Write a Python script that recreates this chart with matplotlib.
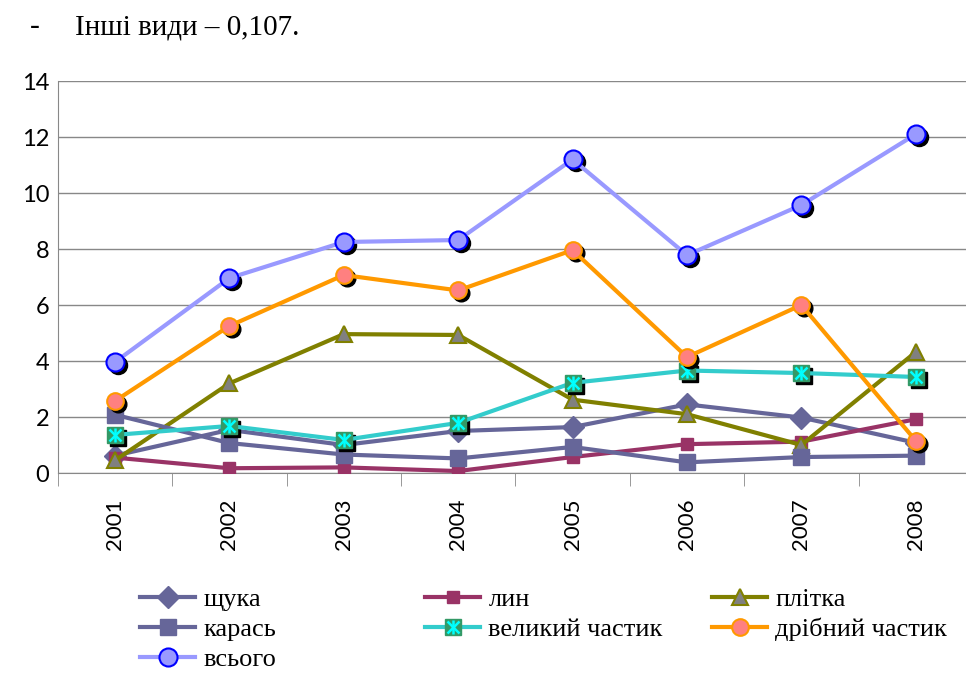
import numpy as np
import matplotlib.pyplot as plt
from matplotlib.legend_handler import HandlerTuple
from matplotlib.transforms import ScaledTranslation

# Дані
years = ['2001', '2002', '2003', '2004', '2005', '2006', '2007', '2008']
shchuka = [0.62, 1.54, 1.0, 1.5, 1.64, 2.45, 1.98, 1.08]
lyn = [0.55, 0.17, 0.2, 0.07, 0.57, 1.03, 1.12, 1.92]
plitka = [0.45, 3.2, 4.96, 4.93, 2.62, 2.1, 1.0, 4.32]
karas = [2.08, 1.07, 0.66, 0.52, 0.93, 0.38, 0.57, 0.62]
velykyi = [1.36, 1.68, 1.18, 1.79, 3.22, 3.66, 3.57, 3.43]
dribnyi = [2.57, 5.25, 7.07, 6.52, 7.96, 4.14, 6.0, 1.15]
vsogo = [3.96, 6.96, 8.25, 8.32, 11.2, 7.78, 9.57, 12.1]

serif = ['Liberation Serif', 'DejaVu Serif']
sans = ['Lato', 'DejaVu Sans']

fig = plt.figure(figsize=(9.66, 6.74), dpi=100)
ax = fig.add_axes([57.75 / 966, 201 / 674, 915.25 / 966, 392 / 674])
x = np.arange(len(years))

# тінь під маркерами
shadow = ax.transData + ScaledTranslation(3 / 100, -3 / 100, fig.dpi_scale_trans)

lw = 3
h_shch, = ax.plot(x, shchuka, color='#666699', lw=lw, marker='D', ms=11,
                  mfc='#666699', mec='#666699', zorder=3)
h_lyn, = ax.plot(x, lyn, color='#993366', lw=lw, marker='s', ms=8,
                 mfc='#993366', mec='#993366', zorder=3)
h_pl, = ax.plot(x, plitka, color='#808000', lw=lw, marker='^', ms=12,
                mfc='#808080', mec='#808000', mew=1.5, zorder=3)
h_kar, = ax.plot(x, karas, color='#666699', lw=lw, marker='s', ms=11,
                 mfc='#666699', mec='#666699', zorder=3)

ax.plot(x, velykyi, ls='none', marker='s', ms=11, color='black', transform=shadow, zorder=4)
h_vel, = ax.plot(x, velykyi, color='#33CCCC', lw=lw, marker='s', ms=11,
                 mfc='#339966', mec='#339966', zorder=4)
h_vel_x, = ax.plot(x, velykyi, ls='none', marker='x', ms=8, mec='#00FFFF', mew=1.8, zorder=4)
h_vel_l, = ax.plot(x, velykyi, ls='none', marker='|', ms=10, mec='#00FFFF', mew=1.8, zorder=4)

ax.plot(x, dribnyi, ls='none', marker='o', ms=12, color='black', transform=shadow, zorder=5)
h_dr, = ax.plot(x, dribnyi, color='#FF9900', lw=lw, marker='o', ms=12,
                mfc='#FF8080', mec='#FF9900', mew=1.5, zorder=5)

ax.plot(x, vsogo, ls='none', marker='o', ms=13, color='black', transform=shadow, zorder=6)
h_vs, = ax.plot(x, vsogo, color='#9999FF', lw=lw, marker='o', ms=13,
                mfc='#9999FF', mec='#0000FF', mew=1.5, zorder=6)

ax.set_xlim(-0.5, len(years) - 0.5)
ax.set_ylim(0, 14)
ax.set_yticks(np.arange(0, 15, 2))
ax.set_xticks(x)
ax.set_xticklabels(years, rotation=90, fontsize=16, family=sans)
ax.set_xticks(np.arange(-0.5, len(years), 1), minor=True)
ax.tick_params(axis='x', which='major', length=0, pad=18)
ax.tick_params(axis='x', which='minor', length=9, color='#888888', direction='out')
ax.tick_params(axis='y', length=0, pad=6)
for lab in ax.get_yticklabels():
    lab.set_family(sans)
    lab.set_fontsize(17)

ax.grid(axis='y', color='#888888', lw=1)
ax.set_axisbelow(True)
for s in ['top', 'right']:
    ax.spines[s].set_visible(False)
ax.spines['left'].set_color('#888888')
ax.spines['bottom'].set_color('#888888')

# легенда: три колонки окремо
cols = [
    ([h_shch, h_kar, h_vs], ['щука', 'карась', 'всього'], 140),
    ([h_lyn, (h_vel, h_vel_x, h_vel_l)], ['лин', 'великий частик'], 425),
    ([h_pl, h_dr], ['плітка', 'дрібний частик'], 712),
]
for hs, ls, px in cols:
    fig.legend(hs, ls, ncol=1, loc='upper left',
               bbox_to_anchor=(px / 966, 1 - 588 / 674),
               frameon=False, prop={'family': serif, 'size': 19},
               handler_map={tuple: HandlerTuple(ndivide=1)},
               handlelength=2.1, handletextpad=0.3,
               labelspacing=0.24, borderpad=0, borderaxespad=0)

fig.text(30 / 966, 1 - 27 / 674, '-', fontsize=21, family=serif, va='center')
fig.text(75 / 966, 1 - 27 / 674, 'Інші види – 0,107.', fontsize=21, family=serif, va='center')

fig.savefig('out.png', dpi=100)
